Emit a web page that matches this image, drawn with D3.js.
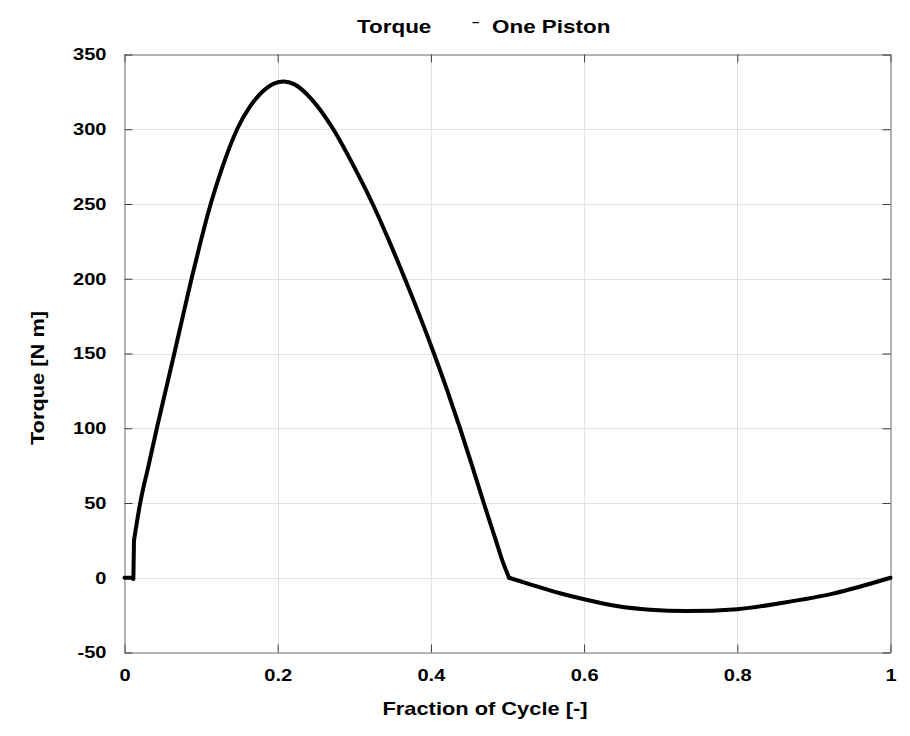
<!DOCTYPE html>
<html>
<head>
<meta charset="utf-8">
<script src="https://cdn.jsdelivr.net/npm/d3@7"></script>
<style>
  html, body { margin: 0; padding: 0; background: #fff; }
  svg { display: block; }
  text { font-family: "Liberation Sans", Arial, Helvetica, sans-serif; font-weight: bold; fill: #000; }
</style>
</head>
<body>
<svg id="chart" width="910" height="736"></svg>
<script>
// Fraction of one engine cycle and the torque one piston delivers (N m)
const cycleFraction = [
  0, 0.0105, 0.0112, 0.0116, 0.0124,
  0.0205, 0.0314, 0.0422, 0.0536, 0.0650, 0.0762, 0.0875, 0.0995, 0.1125, 0.1280,
  0.1470, 0.1635, 0.1760, 0.1950, 0.2080, 0.2220, 0.2444, 0.2726, 0.2996, 0.3240,
  0.3457, 0.3660, 0.3855, 0.4040, 0.4215, 0.4380, 0.4537, 0.4690, 0.4848, 0.4932, 0.5020,
  0.5337, 0.5685, 0.6000, 0.6425, 0.6860, 0.7340, 0.8000, 0.8600, 0.9250, 1
];
const torque = [
  0, 0, -0.8, -0.8, 25,
  50, 75, 100, 125, 150, 175, 200, 225, 250, 275,
  300, 315, 323, 330.5, 332, 330, 320, 300, 275, 250,
  225, 200, 175, 150, 125, 100, 75, 50, 25, 11.6, 0,
  -5.1, -10.4, -14.4, -18.9, -21.4, -22.3, -21, -16.7, -10.6, 0
];
// indices where the trace has a sharp corner (valve events)
const cornerIdx = [4, 35];

const xTicks = [0, 0.2, 0.4, 0.6, 0.8, 1];
const xTickLabels = ["0", "0.2", "0.4", "0.6", "0.8", "1"];
const yTicks = [-50, 0, 50, 100, 150, 200, 250, 300, 350];
const yTickLabels = ["-50", "0", "50", "100", "150", "200", "250", "300", "350"];

const svg = d3.select("#chart");
const plotLeft = 124.5, plotRight = 890.5, plotTop = 54.5, plotBottom = 652.5;
const widen = 1.18; // horizontal widening of the lettering

const x = d3.scaleLinear().domain([0, 1]).range([plotLeft, plotRight]);
const y = d3.scaleLinear().domain([-50, 350]).range([plotBottom, plotTop]);

function stretch(sel) {
  sel.each(function () {
    const w = this.getComputedTextLength();
    if (w > 0) d3.select(this).attr("textLength", w * widen).attr("lengthAdjust", "spacingAndGlyphs");
  });
}

svg.append("rect").attr("width", 910).attr("height", 736).attr("fill", "#fff");

// grid
const grid = svg.append("g").attr("stroke", "#e3e3e3").attr("stroke-width", 1);
grid.selectAll("line.gx").data(xTicks.slice(1, -1)).join("line")
  .attr("x1", d => Math.round(x(d)) + 0.5).attr("x2", d => Math.round(x(d)) + 0.5)
  .attr("y1", plotTop).attr("y2", plotBottom);
grid.selectAll("line.gy").data(yTicks.slice(1, -1)).join("line")
  .attr("y1", d => Math.round(y(d)) + 0.5).attr("y2", d => Math.round(y(d)) + 0.5)
  .attr("x1", plotLeft).attr("x2", plotRight);

// axes with inward ticks on all four sides
const tickLen = 8;
const fmtX = (d, i) => xTickLabels[i];
const fmtY = (d, i) => yTickLabels[i];

const axB = svg.append("g").attr("transform", `translate(0,${plotBottom})`)
  .call(d3.axisBottom(x).tickValues(xTicks).tickFormat(fmtX).tickSizeInner(-tickLen).tickSizeOuter(0).tickPadding(16));
const axT = svg.append("g").attr("transform", `translate(0,${plotTop})`)
  .call(d3.axisTop(x).tickValues(xTicks).tickFormat("").tickSizeInner(-tickLen).tickSizeOuter(0));
const axL = svg.append("g").attr("transform", `translate(${plotLeft},0)`)
  .call(d3.axisLeft(y).tickValues(yTicks).tickFormat(fmtY).tickSizeInner(-tickLen).tickSizeOuter(0).tickPadding(18));
const axR = svg.append("g").attr("transform", `translate(${plotRight},0)`)
  .call(d3.axisRight(y).tickValues(yTicks).tickFormat("").tickSizeInner(-tickLen).tickSizeOuter(0));

[axB, axT, axL, axR].forEach(a => {
  a.select(".domain").attr("stroke", "#6a6a6a").attr("stroke-width", 1);
  a.selectAll(".tick line").attr("stroke", "#3c3c3c").attr("stroke-width", 1);
  a.selectAll("text").attr("fill", "#000").attr("font-size", 17)
    .attr("font-family", "'Liberation Sans', Arial, sans-serif").attr("font-weight", "bold");
});
stretch(axB.selectAll("text"));
stretch(axL.selectAll("text"));

// torque curve: smooth between the sharp corners
const pts = torque.map((t, i) => [cycleFraction[i], t]);
const bounds = [0, ...cornerIdx, pts.length - 1];
const trace = svg.append("g")
  .attr("fill", "none").attr("stroke", "#000").attr("stroke-width", 4)
  .attr("stroke-linejoin", "round").attr("stroke-linecap", "round");
for (let k = 0; k < bounds.length - 1; k++) {
  const seg = pts.slice(bounds[k], bounds[k + 1] + 1);
  trace.append("path")
    .datum(seg)
    .attr("d", d3.line().x(d => x(d[0])).y(d => y(d[1]))
      .curve(k === 0 ? d3.curveLinear : d3.curveMonotoneX));
}

// title
const tA = svg.append("text").attr("x", 357).attr("y", 33).attr("font-size", 19).text("Torque");
const tDash = svg.append("text").attr("x", 472).attr("y", 25.5).attr("font-size", 13).attr("font-weight", "normal").text("–");
const tB = svg.append("text").attr("x", 492).attr("y", 33).attr("font-size", 19).text("One Piston");
stretch(tA); stretch(tB);

const xl = svg.append("text")
  .attr("x", 485).attr("y", 715)
  .attr("text-anchor", "middle").attr("font-size", 18.5)
  .text("Fraction of Cycle [-]");
stretch(xl);

const yl = svg.append("text")
  .attr("transform", "translate(44,378) rotate(-90)")
  .attr("text-anchor", "middle").attr("font-size", 18.5)
  .text("Torque [N m]");
stretch(yl);
</script>
</body>
</html>
